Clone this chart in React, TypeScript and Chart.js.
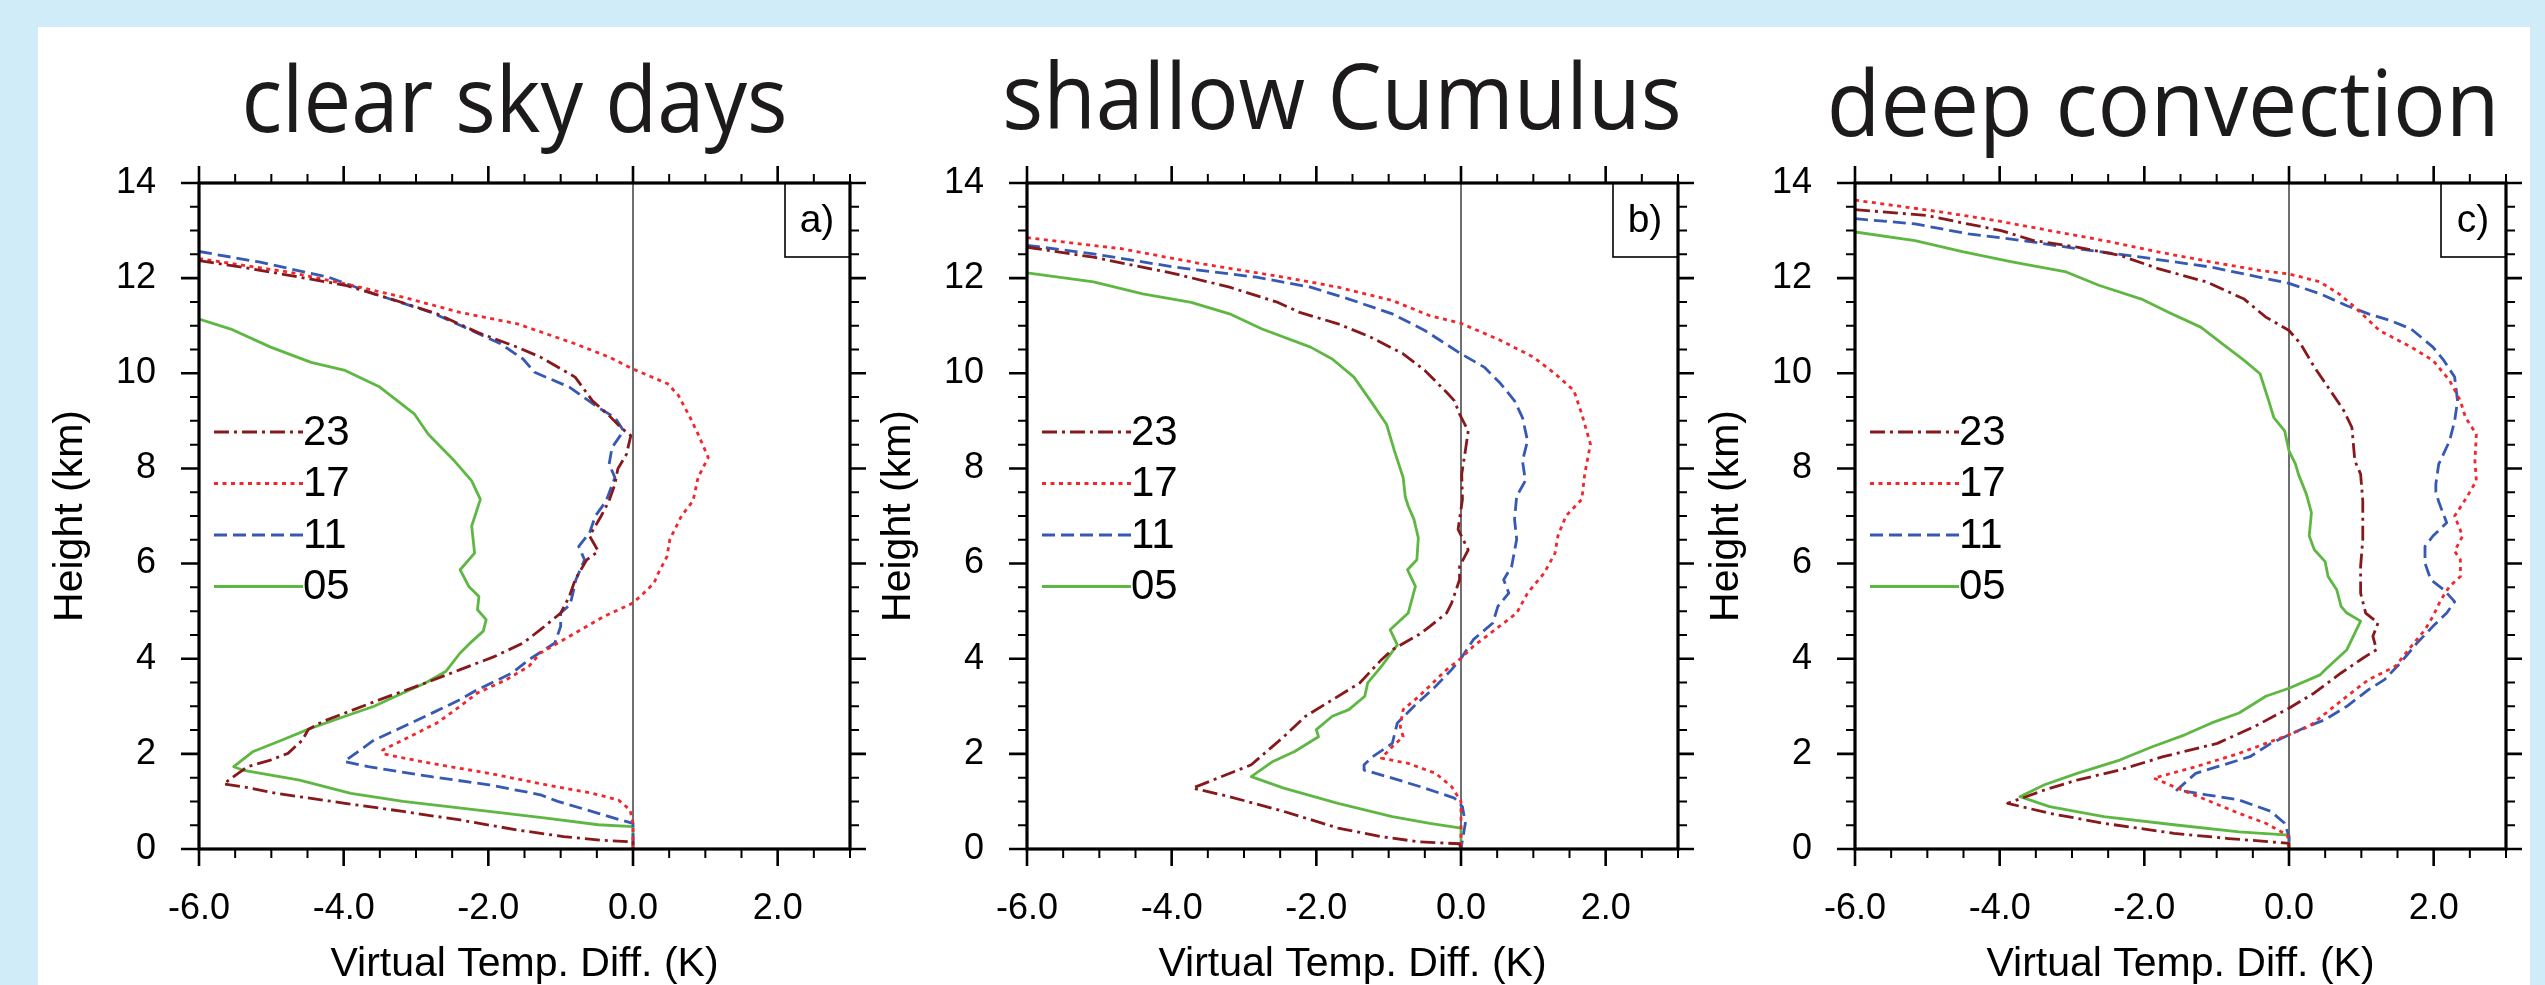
import React, { useEffect, useRef } from "react";
import { Chart, registerables } from "chart.js";

Chart.register(...registerables);

type Pt = [number, number];

// ---------- text / categories ----------
const HOURS = ["23", "17", "11", "05"];
const PANEL_TITLES = ["clear sky days", "shallow Cumulus", "deep convection"];
const PANEL_TAGS = ["a)", "b)", "c)"];
const X_TICKS = [-6, -4, -2, 0, 2];
const Y_TICKS = [0, 2, 4, 6, 8, 10, 12, 14];
const X_LABEL = "Virtual Temp. Diff. (K)";
const Y_LABEL = "Height (km)";

// ---------- data: [virtual temperature difference (K), height (km)] ----------
const CLEAR_23: Pt[] = [[-6.0,12.37],[-5.4,12.23],[-4.61,12.02],[-3.98,11.85],[-3.34,11.56],[-2.71,11.25],[-2.15,10.86],[-1.6,10.55],[-1.28,10.34],[-0.8,9.92],[-0.56,9.42],[-0.33,9.11],[-0.17,8.86],[-0.03,8.69],[-0.09,8.3],[-0.21,7.99],[-0.25,7.67],[-0.33,7.32],[-0.44,7.0],[-0.6,6.58],[-0.48,6.26],[-0.64,6.08],[-0.8,5.66],[-0.88,5.31],[-1.0,4.96],[-1.28,4.61],[-1.52,4.33],[-1.91,4.05],[-2.39,3.77],[-2.94,3.45],[-3.5,3.14],[-3.98,2.86],[-4.29,2.68],[-4.49,2.51],[-4.57,2.29],[-4.77,2.01],[-5.01,1.87],[-5.33,1.73],[-5.66,1.37],[-5.4,1.31],[-4.93,1.17],[-3.98,0.96],[-3.18,0.79],[-2.39,0.61],[-1.6,0.4],[-0.96,0.26],[-0.4,0.18],[0,0.15],[0,0]];
const CLEAR_17: Pt[] = [[-6.0,12.41],[-4.77,12.13],[-3.98,11.88],[-3.18,11.6],[-2.39,11.28],[-1.6,11.04],[-0.8,10.62],[-0.33,10.34],[0,10.09],[0.48,9.78],[0.63,9.53],[0.79,9.07],[0.9,8.72],[1.04,8.23],[0.9,7.81],[0.83,7.32],[0.67,7.0],[0.51,6.51],[0.47,6.15],[0.35,5.8],[0.29,5.59],[0.15,5.38],[0,5.17],[-0.4,4.89],[-0.8,4.54],[-1.28,4.12],[-1.44,3.84],[-1.75,3.56],[-2.15,3.28],[-2.39,3.0],[-2.71,2.65],[-3.18,2.29],[-3.46,2.08],[-3.46,2.0],[-2.79,1.8],[-1.99,1.59],[-1.2,1.35],[-0.56,1.17],[-0.2,1.03],[-0.04,0.82],[0,0.54],[0,0]];
const CLEAR_11: Pt[] = [[-6.0,12.56],[-5.17,12.34],[-4.21,12.02],[-3.58,11.67],[-2.79,11.28],[-2.23,10.9],[-1.83,10.62],[-1.52,10.3],[-1.36,10.02],[-0.88,9.71],[-0.48,9.28],[-0.25,9.07],[-0.13,8.79],[-0.29,8.44],[-0.33,8.09],[-0.25,7.81],[-0.37,7.32],[-0.52,7.0],[-0.6,6.65],[-0.75,6.36],[-0.67,6.08],[-0.79,5.66],[-0.83,5.38],[-0.87,5.14],[-1.0,4.96],[-1.0,4.68],[-1.08,4.33],[-1.44,3.98],[-1.67,3.7],[-2.15,3.35],[-2.39,3.14],[-2.87,2.79],[-3.26,2.51],[-3.58,2.29],[-3.99,1.84],[-3.66,1.73],[-2.79,1.52],[-1.99,1.35],[-1.28,1.14],[-1.04,1.0],[-0.48,0.75],[-0.17,0.61],[0,0.54],[0,0]];
const CLEAR_05: Pt[] = [[-6.0,11.14],[-5.56,10.93],[-5.01,10.55],[-4.45,10.23],[-3.98,10.06],[-3.5,9.71],[-3.02,9.14],[-2.83,8.72],[-2.47,8.16],[-2.23,7.74],[-2.11,7.35],[-2.23,6.79],[-2.19,6.22],[-2.39,5.87],[-2.27,5.52],[-2.13,5.31],[-2.15,5.03],[-2.03,4.82],[-2.07,4.58],[-2.23,4.36],[-2.39,4.12],[-2.59,3.73],[-2.87,3.49],[-3.18,3.28],[-3.58,3.0],[-3.98,2.79],[-4.45,2.54],[-4.85,2.29],[-5.25,2.05],[-5.52,1.73],[-5.4,1.66],[-4.61,1.45],[-3.9,1.17],[-3.18,1.0],[-1.99,0.79],[-1.2,0.65],[-0.48,0.51],[0,0.47],[0,0]];

const SHALLOW_23: Pt[] = [[-6.0,12.65],[-5.08,12.44],[-3.95,12.09],[-3.2,11.81],[-2.53,11.49],[-2.23,11.28],[-1.7,11.04],[-1.25,10.76],[-0.8,10.41],[-0.5,10.06],[-0.2,9.6],[-0.09,9.42],[-0.02,9.14],[0.1,8.79],[0.06,8.37],[0.01,7.88],[0.02,7.35],[-0.04,6.72],[0.1,6.29],[-0.02,5.94],[-0.02,5.66],[-0.13,5.17],[-0.2,4.96],[-0.43,4.68],[-0.58,4.51],[-0.95,4.19],[-1.1,3.98],[-1.4,3.49],[-1.85,3.07],[-2.15,2.79],[-2.45,2.36],[-2.9,1.77],[-3.71,1.28],[-3.2,1.1],[-2.45,0.79],[-1.7,0.44],[-1.1,0.26],[-0.58,0.15],[-0.02,0.11],[0,0]];
const SHALLOW_17: Pt[] = [[-6.0,12.85],[-4.7,12.62],[-3.58,12.3],[-2.45,12.02],[-1.7,11.81],[-0.95,11.53],[-0.43,11.21],[0,11.05],[0.55,10.69],[1.0,10.34],[1.3,9.99],[1.56,9.64],[1.67,9.14],[1.79,8.51],[1.71,7.88],[1.67,7.35],[1.45,7.0],[1.34,6.58],[1.3,6.22],[1.15,5.8],[0.92,5.38],[0.77,4.96],[0.47,4.61],[0.17,4.26],[0,4.01],[-0.2,3.77],[-0.58,3.21],[-0.8,2.93],[-0.84,2.58],[-0.8,2.36],[-0.95,2.15],[-1.1,1.91],[-0.73,1.8],[-0.35,1.59],[-0.13,1.31],[0,1.0],[0,0]];
const SHALLOW_11: Pt[] = [[-6.0,12.69],[-5.08,12.51],[-3.95,12.23],[-2.83,12.02],[-2.08,11.81],[-1.55,11.56],[-0.95,11.25],[-0.5,10.9],[0,10.41],[0.32,10.13],[0.55,9.78],[0.74,9.42],[0.85,9.07],[0.92,8.58],[0.85,8.16],[0.89,7.74],[0.77,7.42],[0.74,6.93],[0.77,6.51],[0.7,5.94],[0.59,5.66],[0.66,5.38],[0.51,5.1],[0.44,4.75],[0.17,4.4],[0.02,4.05],[-0.13,3.77],[-0.35,3.42],[-0.65,3.0],[-0.88,2.65],[-0.95,2.22],[-1.22,1.94],[-1.34,1.77],[-1.34,1.66],[-0.95,1.49],[-0.5,1.28],[-0.09,1.07],[0.02,0.89],[0.06,0.54],[0.02,0.19],[0,0]];
const SHALLOW_05: Pt[] = [[-6.0,12.11],[-5.08,11.92],[-4.4,11.67],[-3.73,11.49],[-3.2,11.25],[-2.75,10.93],[-2.08,10.55],[-1.78,10.3],[-1.48,9.92],[-1.25,9.42],[-1.03,8.93],[-0.92,8.37],[-0.8,7.81],[-0.77,7.4],[-0.73,7.21],[-0.65,6.93],[-0.59,6.54],[-0.61,6.08],[-0.74,5.87],[-0.63,5.52],[-0.73,4.96],[-0.98,4.61],[-0.88,4.29],[-1.1,3.84],[-1.29,3.49],[-1.33,3.21],[-1.55,2.93],[-1.78,2.79],[-2.0,2.51],[-1.97,2.36],[-2.3,2.05],[-2.6,1.84],[-2.9,1.52],[-2.45,1.28],[-1.7,0.96],[-0.95,0.68],[-0.43,0.54],[0,0.44],[0,0]];

const DEEP_23: Pt[] = [[-6.0,13.44],[-5.02,13.32],[-4.57,13.18],[-3.98,13.0],[-3.53,12.79],[-2.93,12.65],[-2.34,12.48],[-1.81,12.2],[-1.14,11.92],[-0.62,11.56],[-0.32,11.18],[0,10.9],[0.16,10.62],[0.35,10.13],[0.57,9.64],[0.76,9.21],[0.87,8.86],[0.91,8.16],[0.99,7.88],[1.02,7.32],[1.02,6.51],[0.99,5.94],[0.99,5.38],[1.06,4.96],[1.23,4.75],[1.16,4.47],[1.21,4.19],[1.02,4.01],[0.72,3.7],[0.35,3.28],[0,2.96],[-0.47,2.58],[-0.99,2.22],[-1.74,1.94],[-2.34,1.66],[-2.93,1.45],[-3.38,1.24],[-3.89,0.96],[-3.31,0.75],[-2.56,0.54],[-1.59,0.33],[-0.84,0.22],[0,0.12],[0,0]];
const DEEP_17: Pt[] = [[-6.0,13.64],[-4.8,13.39],[-4.05,13.21],[-3.31,13.0],[-2.56,12.79],[-1.81,12.55],[-1.07,12.34],[-0.4,12.16],[0,12.09],[0.43,11.92],[0.69,11.67],[0.91,11.39],[1.25,10.9],[1.69,10.55],[1.99,10.27],[2.22,9.85],[2.37,9.42],[2.44,9.07],[2.59,8.72],[2.57,8.16],[2.59,7.74],[2.44,7.35],[2.29,7.0],[2.4,6.58],[2.29,6.26],[2.37,6.08],[2.37,5.73],[2.22,5.52],[2.1,5.24],[1.99,4.89],[1.88,4.61],[1.69,4.26],[1.47,3.84],[1.1,3.56],[0.8,3.21],[0.57,2.93],[0.28,2.58],[0,2.4],[-0.32,2.22],[-0.69,2.01],[-1.29,1.73],[-1.87,1.49],[-1.59,1.31],[-1.14,1.03],[-0.69,0.75],[-0.32,0.54],[-0.02,0.29],[0,0]];
const DEEP_11: Pt[] = [[-6.0,13.25],[-5.17,13.14],[-4.43,12.93],[-3.68,12.79],[-2.93,12.62],[-2.04,12.44],[-1.07,12.23],[0,11.89],[0.43,11.67],[0.8,11.42],[1.1,11.25],[1.4,11.11],[1.69,10.93],[1.99,10.55],[2.14,10.27],[2.29,9.92],[2.33,9.42],[2.29,9.0],[2.22,8.58],[2.07,8.09],[2.03,7.67],[2.03,7.5],[2.07,7.3],[2.18,6.86],[1.99,6.58],[1.88,6.36],[1.88,6.01],[1.96,5.66],[2.14,5.45],[2.29,5.2],[2.18,4.96],[1.99,4.68],[1.77,4.33],[1.54,3.91],[1.32,3.56],[1.1,3.35],[0.8,3.0],[0.5,2.72],[0.2,2.54],[0,2.4],[-0.25,2.22],[-0.54,1.94],[-0.99,1.73],[-1.29,1.59],[-1.55,1.24],[-1.14,1.14],[-0.69,1.03],[-0.25,0.79],[-0.06,0.54],[0,0.26],[0,0]];
const DEEP_05: Pt[] = [[-6.0,12.97],[-5.17,12.79],[-4.5,12.55],[-3.83,12.34],[-3.08,12.13],[-2.63,11.85],[-2.04,11.56],[-1.66,11.28],[-1.22,10.97],[-0.92,10.62],[-0.62,10.27],[-0.4,9.99],[-0.28,9.42],[-0.21,9.07],[-0.06,8.79],[0,8.37],[0.09,8.09],[0.13,7.88],[0.24,7.46],[0.31,7.07],[0.28,6.58],[0.35,6.29],[0.5,6.04],[0.54,5.73],[0.66,5.45],[0.72,5.1],[0.8,4.96],[0.99,4.79],[0.91,4.54],[0.8,4.19],[0.5,3.77],[0.43,3.66],[0,3.38],[-0.32,3.21],[-0.69,2.86],[-1.07,2.65],[-1.44,2.4],[-1.89,2.15],[-2.34,1.87],[-2.93,1.59],[-3.38,1.35],[-3.72,1.1],[-3.31,0.89],[-2.56,0.68],[-1.59,0.51],[-0.69,0.36],[0,0.29],[0,0]];

const PANEL_SERIES: Pt[][][] = [
  [CLEAR_23, CLEAR_17, CLEAR_11, CLEAR_05],
  [SHALLOW_23, SHALLOW_17, SHALLOW_11, SHALLOW_05],
  [DEEP_23, DEEP_17, DEEP_11, DEEP_05],
];

// ---------- styles ----------
const SERIES_STYLE = [
  { color: "#87181b", dash: [15, 5, 3, 5] },
  { color: "#f2262b", dash: [4, 4.5] },
  { color: "#3659b4", dash: [13, 6] },
  { color: "#5fb743", dash: [] as number[] },
];
const FONT = "'Liberation Sans', Arial, Helvetica, sans-serif";
const TITLE_FONT = "'Open Sans', 'Noto Sans', sans-serif";

// ---------- layout (page pixels) ----------
const PAGE_W = 2545;
const PAGE_H = 985;
const PLOT_LEFTS = [199, 1027, 1855];
const PLOT_TOP = 183;
const PLOT_BOTTOM = 849;
const Y_AXIS_W = 161;
const CANVAS_W = 828;
const RIGHT_PAD = 16;
const TITLE_LAYOUT = [
  { cx: 515, w: 538, base: 132 },
  { cx: 1342, w: 672, base: 129 },
  { cx: 2162, w: 661, base: 136 },
];

function decorPlugin(index: number) {
  const canvasLeft = PLOT_LEFTS[index] - Y_AXIS_W;
  return {
    id: "decor" + index,
    beforeDatasetsDraw(chart: any) {
      const { ctx, chartArea: a, scales } = chart;
      const x0 = scales.x.getPixelForValue(0);
      ctx.save();
      ctx.strokeStyle = "#222";
      ctx.lineWidth = 1.3;
      ctx.beginPath();
      ctx.moveTo(x0, a.top);
      ctx.lineTo(x0, a.bottom);
      ctx.stroke();
      ctx.restore();
    },
    afterDatasetsDraw(chart: any) {
      const { ctx, chartArea: a, scales } = chart;
      const xs = scales.x;
      const ys = scales.y;
      ctx.save();
      ctx.strokeStyle = "#000";
      ctx.setLineDash([]);
      // ticks (outward), minor every 0.5
      for (let v = -6; v <= 3.001; v += 0.5) {
        const major = X_TICKS.includes(v);
        const px = xs.getPixelForValue(v);
        const len = major ? 17 : 9;
        ctx.lineWidth = major ? 2.6 : 2;
        ctx.beginPath();
        ctx.moveTo(px, a.top);
        ctx.lineTo(px, a.top - len);
        ctx.moveTo(px, a.bottom);
        ctx.lineTo(px, a.bottom + len);
        ctx.stroke();
      }
      for (let h = 0; h <= 14.001; h += 0.5) {
        const major = Y_TICKS.includes(h);
        const py = ys.getPixelForValue(h);
        const len = major ? 18 : 9;
        ctx.lineWidth = major ? 2.6 : 2;
        ctx.beginPath();
        ctx.moveTo(a.left, py);
        ctx.lineTo(a.left - len, py);
        ctx.moveTo(a.right, py);
        ctx.lineTo(a.right + len, py);
        ctx.stroke();
      }
      // frame
      ctx.lineWidth = 3.2;
      ctx.strokeRect(a.left, a.top, a.right - a.left, a.bottom - a.top);
      // panel tag box
      ctx.lineWidth = 1.6;
      ctx.strokeRect(a.right - 65, a.top, 65, 74);
      ctx.fillStyle = "#000";
      ctx.font = `39px ${FONT}`;
      ctx.textAlign = "center";
      ctx.textBaseline = "middle";
      ctx.fillText(PANEL_TAGS[index], a.right - 33, a.top + 38);
      // legend
      const ds = chart.data.datasets;
      ctx.font = `42px ${FONT}`;
      ctx.textAlign = "left";
      for (let k = 0; k < ds.length; k++) {
        const y = a.top + 249 + k * 51.5;
        ctx.strokeStyle = ds[k].borderColor;
        ctx.lineWidth = ds[k].borderWidth;
        ctx.setLineDash(ds[k].borderDash || []);
        ctx.beginPath();
        ctx.moveTo(a.left + 15, y);
        ctx.lineTo(a.left + 104, y);
        ctx.stroke();
        ctx.fillText(ds[k].label, a.left + 104, y + 1);
      }
      ctx.restore();
    },
    afterDraw(chart: any) {
      const { ctx } = chart;
      const t = TITLE_LAYOUT[index];
      const text = PANEL_TITLES[index];
      ctx.save();
      ctx.font = `92px ${TITLE_FONT}`;
      ctx.fillStyle = "#1c1a1b";
      ctx.textAlign = "left";
      ctx.textBaseline = "alphabetic";
      const m = ctx.measureText(text);
      const ink = m.actualBoundingBoxLeft + m.actualBoundingBoxRight;
      const sx = t.w / ink;
      ctx.translate(t.cx - t.w / 2 - canvasLeft, t.base);
      ctx.scale(sx, 1);
      ctx.fillText(text, m.actualBoundingBoxLeft, 0);
      ctx.restore();
    },
  };
}

function makeConfig(index: number): any {
  const series = PANEL_SERIES[index];
  return {
    type: "line",
    data: {
      datasets: series.map((pts, k) => ({
        label: HOURS[k],
        data: pts.map(([x, y]) => ({ x, y })),
        borderColor: SERIES_STYLE[k].color,
        borderDash: SERIES_STYLE[k].dash,
        borderWidth: 2.8,
        borderCapStyle: "butt",
        borderJoinStyle: "round",
        pointRadius: 0,
        fill: false,
        tension: 0,
      })),
    },
    options: {
      responsive: false,
      animation: false,
      devicePixelRatio: 1,
      events: [],
      layout: { padding: { top: PLOT_TOP, right: RIGHT_PAD, bottom: 0, left: 0 } },
      plugins: { legend: { display: false }, tooltip: { enabled: false }, title: { display: false } },
      scales: {
        x: {
          type: "linear",
          min: -6,
          max: 3,
          grid: { display: false, drawTicks: false },
          border: { display: false },
          afterBuildTicks: (s: any) => {
            s.ticks = X_TICKS.map((v) => ({ value: v }));
          },
          afterFit: (s: any) => {
            s.height = PAGE_H - PLOT_BOTTOM;
          },
          ticks: {
            padding: 38,
            autoSkip: false,
            maxRotation: 0,
            color: "#000",
            font: { family: FONT, size: 36 },
            callback: (v: any) => Number(v).toFixed(1),
          },
          title: {
            display: true,
            text: X_LABEL,
            color: "#000",
            font: { family: FONT, size: 41, lineHeight: 1 },
            padding: 0,
          },
        },
        y: {
          type: "linear",
          min: 0,
          max: 14,
          grid: { display: false, drawTicks: false },
          border: { display: false },
          afterBuildTicks: (s: any) => {
            s.ticks = Y_TICKS.map((v) => ({ value: v }));
          },
          afterFit: (s: any) => {
            s.width = Y_AXIS_W;
          },
          ticks: {
            padding: 43,
            autoSkip: false,
            color: "#000",
            font: { family: FONT, size: 36 },
            callback: (v: any) => String(v),
          },
          title: {
            display: true,
            text: Y_LABEL,
            color: "#000",
            font: { family: FONT, size: 41, lineHeight: 1 },
            padding: { top: 12, bottom: 0 },
          },
        },
      },
    },
    plugins: [decorPlugin(index)],
  };
}

function Panel({ index }: { index: number }) {
  const ref = useRef<HTMLCanvasElement>(null);
  useEffect(() => {
    if (!ref.current) return;
    const chart = new Chart(ref.current, makeConfig(index));
    return () => chart.destroy();
  }, [index]);
  const left = PLOT_LEFTS[index] - Y_AXIS_W;
  return (
    <canvas
      ref={ref}
      width={CANVAS_W}
      height={PAGE_H}
      style={{ position: "absolute", left, top: 0, width: CANVAS_W, height: PAGE_H }}
    />
  );
}

export default function App() {
  return (
    <div
      style={{
        position: "fixed",
        left: 0,
        top: 0,
        width: PAGE_W,
        height: PAGE_H,
        background: "#d0ecf9",
        overflow: "hidden",
      }}
    >
      <div style={{ position: "absolute", left: 38, top: 27, width: 2492, height: PAGE_H - 27, background: "#ffffff" }} />
      {PANEL_TITLES.map((_, i) => (
        <Panel key={i} index={i} />
      ))}
    </div>
  );
}
